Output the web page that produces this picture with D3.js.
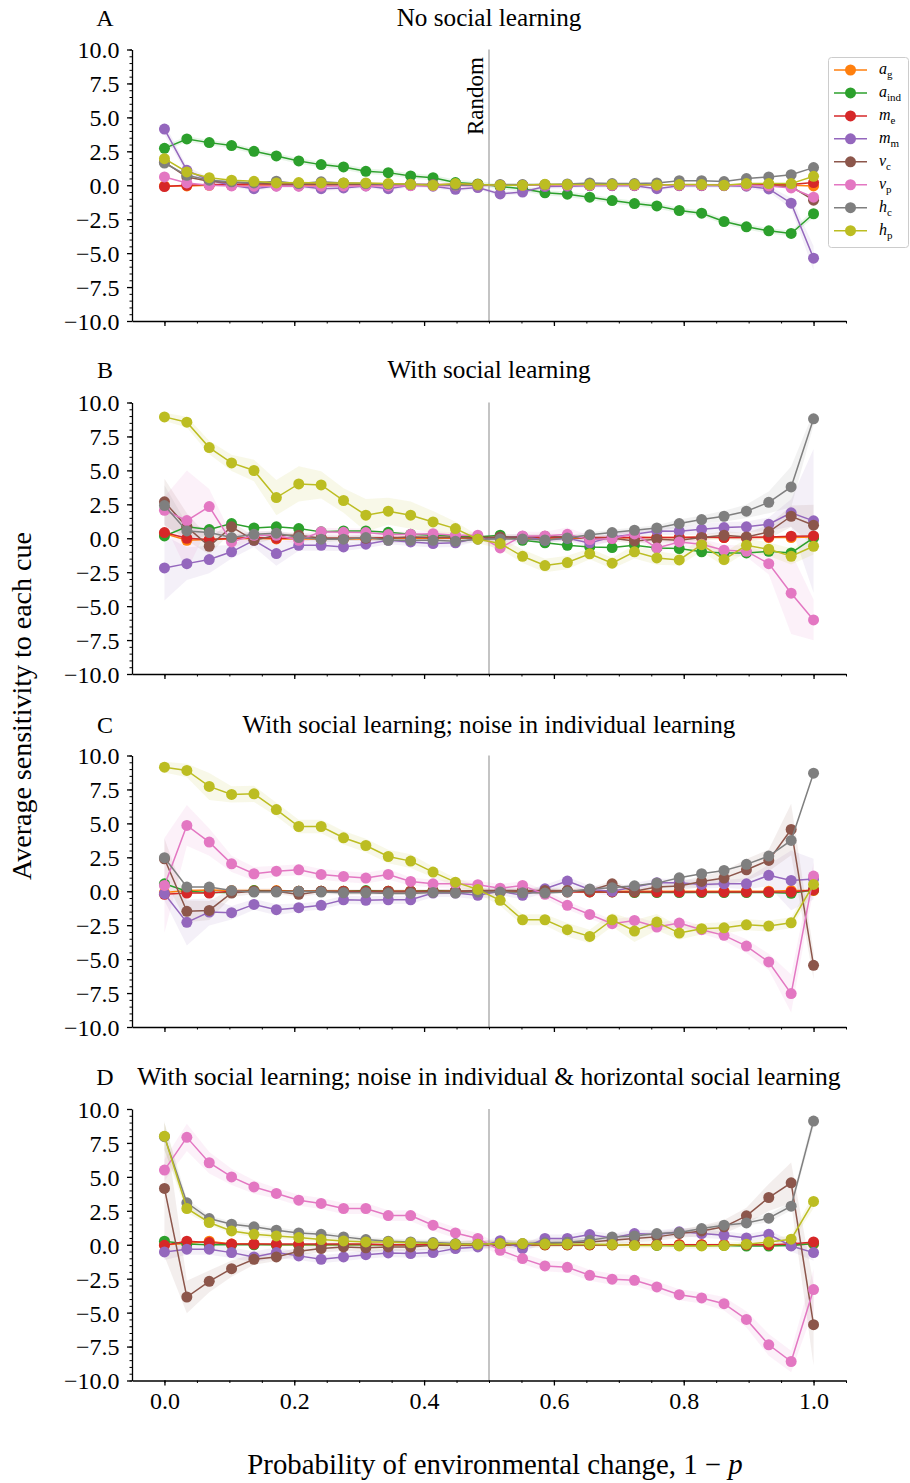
<!DOCTYPE html>
<html><head><meta charset="utf-8">
<script src="https://cdn.jsdelivr.net/npm/d3@7"></script>
<style>
body{margin:0;background:#fff}
svg{display:block}
text{font-family:"Liberation Serif","Times New Roman",serif;fill:#000}
</style>
</head><body><svg id="c" width="910" height="1483"></svg>
<script>
// ---------- data ----------
const xs = [0, 0.0345, 0.069, 0.1034, 0.1379, 0.1724, 0.2069, 0.2414, 0.2759, 0.3103, 0.3448, 0.3793, 0.4138, 0.4483, 0.4828, 0.5172, 0.5517, 0.5862, 0.6207, 0.6552, 0.6897, 0.7241, 0.7586, 0.7931, 0.8276, 0.8621, 0.8966, 0.931, 0.9655, 1.0];
const seriesKeys = ["ag","aind","me","mm","vc","vp","hc","hp"];
const seriesColors = ["#ff7f0e","#2ca02c","#d62728","#9467bd","#8c564b","#e377c2","#7f7f7f","#bcbd22"];
const legendMain = ["a","a","m","m","v","v","h","h"];
const legendSub = ["g","ind","e","m","c","p","c","p"];
const panelLetters = ["A","B","C","D"];
const panelTitles = ["No social learning","With social learning","With social learning; noise in individual learning","With social learning; noise in individual & horizontal social learning"];
const yTicks = [-10,-7.5,-5,-2.5,0,2.5,5,7.5,10];
const xTicks = [0,0.2,0.4,0.6,0.8,1.0];

// Panel A
const A_ag   = [-0.05,-0.05,0,0,0,0,0,0,0,0,0,0,0,0,0,0,0,0,0,0,0,0,0,0,0,0,0,0,0,-0.05];
const A_aind = [2.72,3.41,3.14,2.92,2.5,2.16,1.79,1.52,1.35,1.03,0.93,0.69,0.56,0.2,0.1,-0.1,-0.25,-0.56,-0.66,-0.88,-1.13,-1.35,-1.52,-1.86,-2.06,-2.67,-3.06,-3.36,-3.55,-2.1];
const A_me   = [-0.1,0,0.05,0.05,0.1,0.1,0.1,0.1,0.1,0.1,0.05,0.05,0.05,0.05,0.05,0,0,0,0,0,0,0,0,0,0,0,0.05,0.05,0.05,0.2];
const A_mm   = [4.14,1.1,0.37,0,-0.25,-0.05,-0.05,-0.25,-0.2,-0.05,-0.25,0,-0.07,-0.3,-0.17,-0.64,-0.5,-0.1,-0.07,-0.03,-0.03,-0.03,-0.25,-0.03,-0.03,-0.03,-0.07,-0.27,-1.32,-5.37];
const A_vc   = [1.7,0.6,0.3,0.2,0.15,0.1,0.1,0.05,0.05,0.05,0.05,0.05,0,0,0,0,0,0,0,0,0,0,0,0,0,0,0,-0.05,-0.1,-1.1];
const A_vp   = [0.61,0.17,0,-0.05,-0.07,-0.07,-0.07,-0.07,-0.05,-0.05,-0.05,-0.03,-0.03,-0.03,-0.03,0,0,0,0,0,0,0,0,0,0,0,0,-0.05,-0.2,-0.88];
const A_hc   = [1.64,0.73,0.37,0.25,0.17,0.3,0.12,0.25,0.17,0.12,0.07,0.07,0.05,0,0,0.05,0.05,0.05,0.1,0.17,0.12,0.12,0.17,0.34,0.34,0.27,0.49,0.61,0.78,1.3];
const A_hp   = [1.96,0.98,0.56,0.37,0.29,0.17,0.2,0.17,0.17,0.17,0.12,0.07,0,0.12,0.05,0,0,0.07,0.05,0.05,0.05,0.05,0.02,0.05,0.05,0,0.12,0.12,0.12,0.66];

// Panel B
const B_ag   = [0.34,-0.15,-0.1,-0.05,0,-0.05,-0.05,-0.05,-0.05,-0.05,0,0,0,0,0,0,0,0,0,0,0,0.05,0.05,0.05,0.05,0.05,0.05,0.05,0.05,0.1];
const B_aind = [0.17,0.84,0.64,1.08,0.76,0.84,0.71,0.47,0.54,0.54,0.44,0.29,0.22,0.15,0.1,0.22,-0.15,-0.34,-0.52,-0.64,-0.69,-0.52,-0.71,-0.76,-1.0,-1.08,-1.08,-0.96,-1.08,0.02];
const B_me   = [0.42,0,-0.1,0,0.05,0,0,0,0,0,0.05,0.05,0.05,0.05,0.05,0.05,0.05,0.05,0.05,0.05,0.05,0.05,0.05,0.05,0.1,0.05,0.05,0.1,0.15,0.17];
const B_mm   = [-2.19,-1.87,-1.57,-1.0,-0.15,-1.13,-0.52,-0.52,-0.64,-0.44,-0.15,-0.27,-0.39,-0.34,0,0.02,0.15,-0.15,0,-0.34,0.1,0.29,0.54,0.52,0.66,0.79,0.84,1.03,1.87,1.28];
const B_vc   = [2.68,0.84,-0.59,0.84,-0.15,0.22,0.22,0,0,0,0,0.1,0.05,0.05,0,0.1,0.1,0.15,0.1,-0.02,0,-0.2,-0.07,-0.15,0.05,0.22,0.1,0.47,1.62,0.96];
const B_vp   = [2.06,1.3,2.33,-0.27,0.22,0.22,-0.15,0.47,0.44,0.42,0.27,0.29,0.34,0.22,0.22,-0.71,0.17,0.17,0.29,-0.1,-0.02,0.32,-0.71,-0.27,-0.44,-0.88,-0.96,-1.87,-4.05,-6.02];
const B_hc   = [2.41,0.54,0.42,0.05,0.29,0.37,0.05,-0.07,-0.07,0.05,-0.15,-0.15,-0.15,-0.22,-0.07,-0.05,-0.05,-0.12,0.02,0.25,0.42,0.59,0.76,1.08,1.38,1.62,1.99,2.65,3.78,8.8];
const B_hp   = [8.94,8.55,6.68,5.55,4.99,3.0,4.0,3.93,2.78,1.7,1.99,1.7,1.2,0.71,-0.07,-0.39,-1.33,-2.01,-1.79,-1.15,-1.84,-1.0,-1.45,-1.6,-0.47,-1.57,-0.52,-0.81,-1.33,-0.59];

// Panel C
const C_ag   = [-0.1,0.05,0.1,0.05,0.05,0.05,0,0,0,0,0,0,0,0,0,0,0,0,0,0,0,0,0,0,0,0,0,0,0.05,0.05];
const C_aind = [0.55,0,-0.1,-0.1,0.05,0,0,0,0,0.05,0,0,0.05,0,0,0,0,0,0,-0.05,-0.05,-0.1,-0.1,-0.1,-0.1,-0.1,-0.1,-0.1,-0.15,0.1];
const C_me   = [-0.23,-0.13,-0.13,0,0,0,0,0,0,0,0,0,0,0,-0.05,-0.05,-0.05,-0.05,-0.05,-0.05,-0.05,-0.05,-0.05,-0.05,-0.05,-0.05,-0.05,-0.05,-0.05,0.1];
const C_mm   = [-0.18,-2.29,-1.53,-1.58,-0.97,-1.36,-1.21,-1.04,-0.63,-0.67,-0.63,-0.63,-0.13,-0.13,-0.3,0,-0.3,0.18,0.75,0.13,0,0.31,0.63,0.63,0.5,0.55,0.55,1.17,0.8,0.9];
const C_vc   = [2.39,-1.48,-1.41,-0.13,0,0,-0.23,0,-0.05,-0.05,-0.05,-0.05,-0.05,0,0.06,0.06,0.06,0.06,0.06,0.06,0.55,0,0.31,0.38,0.72,0.97,1.58,2.27,4.55,-5.46];
const C_vp   = [0.43,4.85,3.62,2.02,1.29,1.48,1.58,1.24,1.09,0.97,1.24,0.72,0.55,0.55,0.48,0.23,0.43,-0.23,-1.04,-1.71,-2.39,-2.15,-2.64,-2.34,-2.83,-3.25,-4.04,-5.21,-7.54,1.12];
const C_hc   = [2.47,0.31,0.31,0.06,-0.06,-0.06,0,-0.06,-0.11,-0.11,-0.16,-0.16,-0.09,-0.13,-0.06,-0.06,-0.11,-0.13,-0.06,0.16,0.26,0.4,0.6,0.99,1.29,1.53,1.98,2.59,3.74,8.7];
const C_hp   = [9.14,8.9,7.72,7.13,7.18,6.02,4.77,4.77,3.94,3.37,2.56,2.22,1.41,0.67,0.13,-0.67,-2.1,-2.1,-2.83,-3.33,-2.1,-2.93,-2.27,-3.08,-2.76,-2.69,-2.47,-2.56,-2.32,0.5];

// Panel D
const D_ag   = [0,0.1,0.26,0.05,0.05,0,0,0,0,0,0,0,0,0,0,0,0,0,0,0,0,0,0,0,0,0,0,0,0,0.05];
const D_aind = [0.26,0.05,0,0,0,0,0,0,0,0,0,0,0,0,0,0,0,0,0,0,0,0,-0.05,-0.05,-0.05,-0.05,-0.1,-0.1,-0.05,0.1];
const D_me   = [-0.04,0.26,0.16,0.05,0.05,0.05,0.05,0.05,0.05,0.05,0,0,0,0,0,0,0,0,0,0,0,0,0,0,0,0,0,0,0.05,0.21];
const D_mm   = [-0.53,-0.33,-0.33,-0.58,-0.9,-0.58,-0.82,-1.07,-0.9,-0.73,-0.6,-0.65,-0.58,-0.28,-0.16,0.3,-0.28,0.46,0.46,0.75,0.5,0.82,0.75,0.95,0.82,0.7,0.5,0.77,-0.09,-0.58];
const D_vc   = [4.15,-3.85,-2.69,-1.76,-1.07,-0.9,-0.48,-0.28,-0.16,-0.23,-0.16,-0.16,-0.04,0,0.05,0.05,0.05,0.1,0.14,0.21,0.33,0.46,0.58,0.82,1.02,1.32,2.13,3.48,4.56,-5.89];
const D_vp   = [5.5,7.91,6.04,5.0,4.26,3.78,3.28,3.04,2.67,2.67,2.15,2.15,1.44,0.87,0.46,-0.41,-1.02,-1.56,-1.66,-2.25,-2.54,-2.62,-3.11,-3.68,-3.92,-4.34,-5.5,-7.37,-8.6,-3.3];
const D_hc   = [7.96,3.09,1.93,1.51,1.32,1.07,0.87,0.77,0.58,0.38,0.26,0.21,0.16,0.09,0.04,0.09,0.09,0.14,0.19,0.33,0.58,0.65,0.82,0.9,1.19,1.44,1.61,1.96,2.84,9.11];
const D_hp   = [8.0,2.67,1.64,1.02,0.77,0.65,0.53,0.38,0.28,0.21,0.21,0.14,0.09,0.04,0.04,0.09,0.09,0.04,0.04,0.04,0.01,-0.06,-0.04,-0.09,-0.09,-0.06,0.04,0.21,0.41,3.19];

// confidence half-widths (shaded bands), only where visible
const ciA_aind = [0.2,0.2,0.2,0.2,0.2,0.2,0.2,0.2,0.2,0.2,0.2,0.2,0.2,0.2,0.2,0.2,0.2,0.2,0.2,0.2,0.2,0.2,0.2,0.2,0.2,0.2,0.2,0.2,0.2,0.3];
const ciA_mm = [0.4,0.3,0.2,0.15,0.15,0.15,0.15,0.15,0.15,0.15,0.15,0.15,0.15,0.15,0.15,0.15,0.15,0.15,0.15,0.15,0.15,0.15,0.15,0.15,0.15,0.15,0.15,0.2,0.4,0.9];
const ciB_hp = [0.3,0.4,0.5,0.6,0.8,1.3,1.3,1.0,0.9,1.2,1.0,1.0,0.8,0.5,0.3,0.4,0.5,0.5,0.5,0.4,0.4,0.5,0.5,0.4,0.5,0.5,0.5,0.5,0.6,0.6];
const ciB_mm = [2.4,1.2,1.0,0.5,0.5,0.9,0.4,0.4,0.3,0.3,0.3,0.3,0.3,0.3,0.2,0.2,0.2,0.2,0.2,0.3,0.3,0.3,0.3,0.3,0.4,0.4,0.4,0.5,1.0,5.3];
const ciB_vc = [1.7,1.0,0.6,0.4,0.3,0.2,0.2,0.2,0.2,0.2,0.2,0.2,0.2,0.2,0.2,0.2,0.2,0.2,0.2,0.2,0.2,0.2,0.2,0.2,0.2,0.3,0.3,0.5,0.8,1.5];
const ciB_vp = [1.0,3.7,1.3,0.5,0.3,0.3,0.3,0.3,0.3,0.3,0.2,0.2,0.2,0.2,0.2,0.3,0.3,0.3,0.5,0.3,0.3,0.3,0.3,0.3,0.4,0.4,0.4,0.8,3.0,1.5];
const ciB_hc = [1.5,0.5,0.3,0.2,0.2,0.2,0.2,0.2,0.2,0.2,0.2,0.2,0.2,0.2,0.2,0.2,0.2,0.2,0.2,0.2,0.2,0.2,0.2,0.3,0.3,0.4,0.5,0.8,1.5,0.5];
const ciC_hp = [0.4,0.5,1.0,0.6,0.6,0.5,0.5,0.5,0.5,0.5,0.5,0.5,0.4,0.3,0.3,0.4,0.4,0.4,0.5,0.5,0.5,0.8,0.6,0.5,0.4,0.4,0.4,0.4,0.4,0.4];
const ciC_vp = [3.5,1.5,1.0,0.6,0.5,0.4,0.4,0.4,0.4,0.4,0.4,0.3,0.3,0.3,0.3,0.3,0.3,0.3,0.3,0.3,0.3,0.3,0.3,0.3,0.3,0.4,0.5,0.6,1.4,1.0];
const ciC_mm = [0.5,1.7,1.0,0.5,0.4,0.4,0.3,0.3,0.3,0.3,0.3,0.3,0.3,0.3,0.3,0.3,0.3,0.3,0.3,0.3,0.3,0.3,0.3,0.3,0.3,0.3,0.4,0.8,2.2,1.5];
const ciC_vc = [1.5,0.8,0.7,0.3,0.2,0.2,0.2,0.2,0.2,0.2,0.2,0.2,0.2,0.2,0.2,0.2,0.2,0.2,0.2,0.2,0.2,0.2,0.2,0.3,0.4,0.5,0.8,0.8,1.9,1.0];
const ciD_vp = [0.8,1.0,0.8,0.6,0.5,0.4,0.4,0.4,0.4,0.4,0.4,0.4,0.4,0.4,0.4,0.4,0.4,0.4,0.4,0.4,0.4,0.4,0.4,0.4,0.4,0.5,0.6,0.8,0.8,1.5];
const ciD_vc = [5.0,1.2,0.8,0.6,0.4,0.3,0.3,0.3,0.3,0.3,0.3,0.3,0.3,0.3,0.3,0.3,0.3,0.3,0.3,0.3,0.3,0.3,0.3,0.3,0.4,0.5,0.6,1.0,1.5,3.0];
const ciD_mm = [0.6,0.4,0.4,0.4,0.4,0.4,0.3,0.3,0.3,0.3,0.3,0.3,0.3,0.3,0.3,0.3,0.3,0.3,0.3,0.3,0.3,0.3,0.3,0.3,0.3,0.3,0.3,0.3,0.4,0.6];
const ciD_hc = [1.0,0.3,0.2,0.2,0.2,0.2,0.2,0.2,0.2,0.2,0.2,0.2,0.2,0.2,0.2,0.2,0.2,0.2,0.2,0.2,0.2,0.2,0.2,0.2,0.2,0.2,0.2,0.3,0.3,0.5];
const ciD_hp = [1.0,0.3,0.2,0.2,0.2,0.2,0.2,0.2,0.2,0.2,0.2,0.2,0.2,0.2,0.2,0.2,0.2,0.2,0.2,0.2,0.2,0.2,0.2,0.2,0.2,0.2,0.2,0.2,0.3,0.5];

// ---------- assemble ----------
const panelData = [
  {ag:A_ag,aind:A_aind,me:A_me,mm:A_mm,vc:A_vc,vp:A_vp,hc:A_hc,hp:A_hp},
  {ag:B_ag,aind:B_aind,me:B_me,mm:B_mm,vc:B_vc,vp:B_vp,hc:B_hc,hp:B_hp},
  {ag:C_ag,aind:C_aind,me:C_me,mm:C_mm,vc:C_vc,vp:C_vp,hc:C_hc,hp:C_hp},
  {ag:D_ag,aind:D_aind,me:D_me,mm:D_mm,vc:D_vc,vp:D_vp,hc:D_hc,hp:D_hp}
];
const panelCI = [
  {aind:ciA_aind, mm:ciA_mm},
  {hp:ciB_hp, mm:ciB_mm, vc:ciB_vc, vp:ciB_vp, hc:ciB_hc},
  {hp:ciC_hp, vp:ciC_vp, mm:ciC_mm, vc:ciC_vc},
  {vp:ciD_vp, vc:ciD_vc, mm:ciD_mm, hc:ciD_hc, hp:ciD_hp}
];

// ---------- layout ----------
const plotLeft = 132, plotRight = 846, plotH = 271.5;
const panelTops = [49.5, 402.5, 755.5, 1109];
const titleBaselines = [26, 378, 733, 1085];
const svg = d3.select("#c");
const x = d3.scaleLinear().domain([-0.05, 1.05]).range([plotLeft, plotRight]);
const fmt = d3.format(".1f");

panelData.forEach((pd, pi) => {
  const top = panelTops[pi];
  const y = d3.scaleLinear().domain([-10, 10]).range([top + plotH, top]);
  const g = svg.append("g");

  // titles
  g.append("text").attr("x", 105).attr("y", titleBaselines[pi]).attr("text-anchor", "middle")
    .style("font-size", "24px").text(panelLetters[pi]);
  g.append("text").attr("x", (plotLeft + plotRight) / 2).attr("y", titleBaselines[pi]).attr("text-anchor", "middle")
    .style("font-size", pi === 3 ? "25.6px" : "25.2px").text(panelTitles[pi]);

  // vertical "Random" line
  g.append("line").attr("x1", x(0.5)).attr("x2", x(0.5)).attr("y1", y(10)).attr("y2", y(-10))
    .attr("stroke", "#b0b0b0").attr("stroke-width", 1.5);
  if (pi === 0) {
    g.append("text").attr("transform", `translate(${x(0.5) - 6},${y(3.7)}) rotate(-90)`)
      .style("font-size", "23px").text("Random");
  }

  // bands
  seriesKeys.forEach((k, si) => {
    const ci = panelCI[pi][k];
    if (!ci) return;
    const vals = pd[k];
    const area = d3.area().x((d, i) => x(xs[i])).y0((d, i) => y(vals[i] - ci[i])).y1((d, i) => y(vals[i] + ci[i]));
    g.append("path").datum(vals).attr("d", area).attr("fill", seriesColors[si]).attr("fill-opacity", 0.1);
  });

  // lines & markers
  seriesKeys.forEach((k, si) => {
    const vals = pd[k];
    const line = d3.line().x((d, i) => x(xs[i])).y(d => y(d));
    g.append("path").datum(vals).attr("d", line).attr("fill", "none")
      .attr("stroke", seriesColors[si]).attr("stroke-width", 1.5);
    g.selectAll(null).data(vals).enter().append("circle")
      .attr("cx", (d, i) => x(xs[i])).attr("cy", d => y(d)).attr("r", 5.5)
      .attr("fill", seriesColors[si]);
  });

  // y axis
  const yMinor = d3.range(-10, 10.001, 0.5);
  const yAxMinor = g.append("g").attr("transform", `translate(${plotLeft},0)`)
    .call(d3.axisLeft(y).tickValues(yMinor).tickSize(2.5).tickFormat(""));
  yAxMinor.select(".domain").remove();
  yAxMinor.selectAll("line").attr("stroke", "#000").attr("stroke-width", 1);
  const yAx = g.append("g").attr("transform", `translate(${plotLeft},0)`)
    .call(d3.axisLeft(y).tickValues(yTicks).tickSize(5).tickSizeOuter(0).tickPadding(7.5).tickFormat(d => fmt(d)));
  yAx.selectAll("text").style("font-size", "24px").style("font-family", "'Liberation Serif', serif").attr("dy", "0.35em");
  yAx.selectAll("line").attr("stroke", "#000").attr("stroke-width", 1.3);
  yAx.select(".domain").attr("stroke", "#000").attr("stroke-width", 1.3);

  // x axis
  const xMinor = d3.range(-0.05, 1.0501, 0.05).filter(v => v > -0.049);
  const xAxMinor = g.append("g").attr("transform", `translate(0,${top + plotH})`)
    .call(d3.axisBottom(x).tickValues(xMinor).tickSize(2.5).tickFormat(""));
  xAxMinor.select(".domain").remove();
  xAxMinor.selectAll("line").attr("stroke", "#000").attr("stroke-width", 1);
  const xAx = g.append("g").attr("transform", `translate(0,${top + plotH})`)
    .call(d3.axisBottom(x).tickValues(xTicks).tickSize(5).tickSizeOuter(0).tickPadding(6)
      .tickFormat(d => pi === 3 ? fmt(d) : ""));
  xAx.selectAll("text").style("font-size", "24px").style("font-family", "'Liberation Serif', serif");
  xAx.selectAll("line").attr("stroke", "#000").attr("stroke-width", 1.3);
  xAx.select(".domain").attr("stroke", "#000").attr("stroke-width", 1.3);
});

// axis labels
svg.append("text").attr("transform", `translate(31,706) rotate(-90)`).attr("text-anchor", "middle")
  .style("font-size", "28px").text("Average sensitivity to each cue");
const xl = svg.append("text").attr("x", 495).attr("y", 1474).attr("text-anchor", "middle").style("font-size", "28.8px");
xl.append("tspan").text("Probability of environmental change, 1 \u2212 ");
xl.append("tspan").style("font-style", "italic").text("p");

// legend
const lg = svg.append("g");
lg.append("rect").attr("x", 828.5).attr("y", 57.5).attr("width", 80).attr("height", 190).attr("rx", 3)
  .attr("fill", "#fff").attr("fill-opacity", 0.8).attr("stroke", "#cccccc").attr("stroke-width", 1);
seriesKeys.forEach((k, si) => {
  const yy = 70 + si * 22.95;
  lg.append("line").attr("x1", 834).attr("x2", 867).attr("y1", yy).attr("y2", yy)
    .attr("stroke", seriesColors[si]).attr("stroke-width", 1.5);
  lg.append("circle").attr("cx", 850.5).attr("cy", yy).attr("r", 5.5).attr("fill", seriesColors[si]);
  const t = lg.append("text").attr("x", 879).attr("y", yy + 4).style("font-size", "16px");
  t.append("tspan").style("font-style", "italic").text(legendMain[si]);
  t.append("tspan").attr("dy", 4).style("font-size", "11px").text(legendSub[si]);
});
</script>
</body></html>
